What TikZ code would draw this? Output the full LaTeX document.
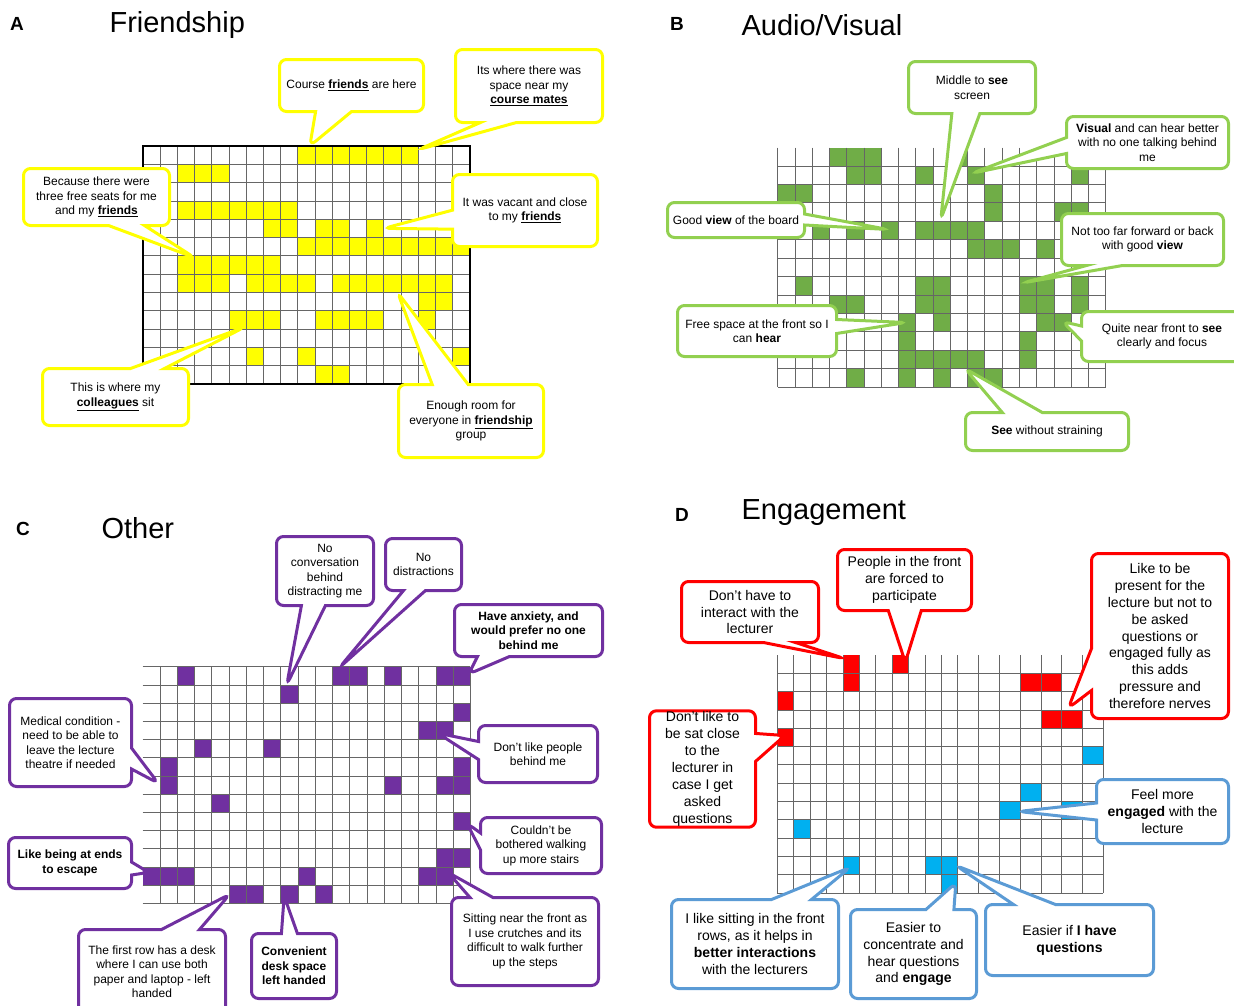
\documentclass[tikz,border=0pt]{standalone}
\usepackage{fontspec}
\setmainfont{Liberation Sans}
\usetikzlibrary{shapes.callouts}
\definecolor{friendyellow}{HTML}{FFFF00}
\definecolor{avline}{HTML}{92D050}
\definecolor{avseat}{HTML}{70AD47}
\definecolor{otherpurple}{HTML}{7030A0}
\definecolor{engred}{HTML}{FF0000}
\definecolor{engline}{HTML}{5B9BD5}
\definecolor{engseat}{HTML}{00B0F0}
\tikzstyle{bubble}=[rectangle callout, draw, fill=white, line width=3pt, rounded corners=7pt, align=center, inner sep=1pt, callout pointer width=20pt]
\tikzstyle{seatline}=[draw=black!60, line width=0.7pt]
\newcommand{\bubble}{\node[bubble]}

\begin{document}
\begin{tikzpicture}[x=1pt, y=-1pt,
	friendbox/.style={draw=friendyellow, font=\fontsize{12}{14.5}\selectfont},
	avbox/.style={draw=avline, font=\fontsize{12}{14.5}\selectfont},
	otherbox/.style={draw=otherpurple, font=\fontsize{12}{14.5}\selectfont},
	engredbox/.style={draw=engred, font=\fontsize{14}{16.9}\selectfont},
	engbluebox/.style={draw=engline, font=\fontsize{14}{16.9}\selectfont},
	paneltitle/.style={anchor=west, font=\fontsize{29}{34}\selectfont},
	panelletter/.style={font=\fontsize{19}{22}\selectfont\bfseries}
	]
	\useasboundingbox (0,0) rectangle (1234,1005);

	% A: friendship
	\node[panelletter] (lettA) at (17,24) {A};
	\node[paneltitle] (titleA) at (106,25) {Friendship};
	\begin{scope}[shift={(143,146)}, x=17.2pt, y=-18.3pt]
		\foreach \r/\cols in {0/{9,...,15}, 1/{2,3,4}, 3/{2,...,8}, 4/{7,8,10,11,13}, 5/{9,...,18}, 6/{2,...,7}, 7/{2,3,4,6,7,8,9,11,12,13,14,15,16,17}, 8/{16,17}, 9/{5,6,7,10,11,12,13,16}, 11/{6,9,18}, 12/{10,11}}
			\foreach \c in \cols \fill[friendyellow] (\c,\r) rectangle ++(1,1);
		\foreach \i in {0,...,19} \draw[seatline] (\i,0) -- (\i,13);
		\foreach \j in {0,...,13} \draw[seatline] (0,\j) -- (19,\j);
		\draw[line width=2.5pt] (0,0) rectangle (19,13);
		\coordinate (tFriends) at (9.7,0);
		\coordinate (tMates) at (16,0.2);
		\coordinate (tFree) at (3,6.1);
		\coordinate (tVacant) at (14,4.5);
		\coordinate (tColleagues) at (5.9,9.9);
		\coordinate (tRoom) at (14.8,8);
	\end{scope}
	\bubble (bFriends) at (351.5,85.5) [friendbox, minimum width=144pt, minimum height=52pt, callout pointer width=36pt, callout absolute pointer={(tFriends)}] {Course \underline{\textbf{friends}} are here};
	\bubble (bMates) at (529,86) [friendbox, minimum width=147pt, minimum height=73pt, callout pointer width=36pt, callout absolute pointer={(tMates)}] {Its where there was\\space near my\\\underline{\textbf{course mates}}};
	\bubble (bFree) at (96.5,197) [friendbox, minimum width=146pt, minimum height=57pt, callout pointer width=36pt, callout absolute pointer={(tFree)}] {Because there were\\three free seats for me\\and my \underline{\textbf{friends}}};
	\bubble (bVacant) at (525,210.5) [friendbox, minimum width=145pt, minimum height=72pt, callout pointer width=19pt, callout absolute pointer={(tVacant)}] {It was vacant and close\\to my \underline{\textbf{friends}}};
	\bubble (bColleagues) at (115.5,397) [friendbox, minimum width=146pt, minimum height=57pt, callout pointer width=34pt, callout absolute pointer={(tColleagues)}] {This is where my\\\underline{\textbf{colleagues}} sit};
	\bubble (bRoom) at (471,421) [friendbox, minimum width=145pt, minimum height=73pt, callout pointer width=36pt, callout absolute pointer={(tRoom)}] {Enough room for\\everyone in \underline{\textbf{friendship}}\\group};

	% B: audio/visual
	\node[panelletter] (lettB) at (677,24) {B};
	\node[paneltitle] (titleB) at (738,25) {Audio/Visual};
	\begin{scope}[shift={(777.7,147.5)}, x=17.26pt, y=-18.42pt]
		\foreach \r/\cols in {0/{3,4,5,10}, 1/{4,5,8,11,17}, 2/{0,1,12}, 3/{12,16,17}, 4/{2,4,6,8,9,10,11}, 5/{11,12,13,15}, 7/{1,8,9,14,15,17}, 8/{3,4,8,9,14,15,17}, 9/{7,9,15,16}, 10/{7,14}, 11/{7,...,11,14}, 12/{4,7,9,11,12}}
			\foreach \c in \cols \fill[avseat] (\c,\r) rectangle ++(1,1);
		\foreach \i in {0,...,19} \draw[seatline] (\i,0) -- (\i,13);
		\foreach \j in {1,...,13} \draw[seatline] (0,\j) -- (19,\j);
		\coordinate (tScreen) at (9.45,3.9);
		\coordinate (tVisual) at (11.25,1.4);
		\coordinate (tBoard) at (6.4,4.45);
		\coordinate (tNotFar) at (14.2,7.35);
		\coordinate (tHear) at (7.45,9.5);
		\coordinate (tFocus) at (16.5,9.45);
		\coordinate (tStrain) at (10.85,12);
	\end{scope}
	\bubble (bScreen) at (972,87.5) [avbox, minimum width=127pt, minimum height=52pt, callout pointer width=28pt, callout absolute pointer={(tScreen)}] {Middle to \textbf{see}\\screen};
	\bubble (bVisual) at (1147.5,142.5) [avbox, minimum width=162pt, minimum height=52pt, callout pointer width=16pt, callout absolute pointer={(tVisual)}] {\textbf{Visual} and can hear better\\with no one talking behind\\me};
	\bubble (bBoard) at (736,220) [avbox, minimum width=137pt, minimum height=35pt, callout pointer width=11pt, callout absolute pointer={(tBoard)}] {Good \textbf{view} of the board};
	\bubble (bNotFar) at (1142.5,239.5) [avbox, minimum width=162pt, minimum height=52pt, callout pointer width=36pt, callout absolute pointer={(tNotFar)}] {Not too far forward or back\\with good \textbf{view}};
	\bubble (bHear) at (757,331) [avbox, minimum width=159pt, minimum height=51pt, callout pointer width=14pt, callout absolute pointer={(tHear)}] {Free space at the front so I\\can \textbf{hear}};
	\bubble (bFocus) at (1162,336.5) [avbox, minimum width=161pt, minimum height=50pt, callout pointer width=15pt, callout absolute pointer={(tFocus)}] {Quite near front to \textbf{see}\\clearly and focus};
	\bubble (bStrain) at (1047,431.5) [avbox, minimum width=163pt, minimum height=38pt, callout pointer width=40pt, callout absolute pointer={(tStrain)}] {\textbf{See} without straining};

	% C: other
	\node[panelletter] (lettC) at (23,529) {C};
	\node[paneltitle] (titleC) at (98,528) {Other};
	\begin{scope}[shift={(142.7,666.7)}, x=17.25pt, y=-18.2pt]
		\foreach \r/\cols in {0/{2,11,12,14,17,18}, 1/{8}, 2/{18}, 3/{16,17}, 4/{3,7}, 5/{1,18}, 6/{1,14,17,18}, 7/{4}, 8/{18}, 10/{17,18}, 11/{0,1,2,9,16,17}, 12/{5,6,8,10}}
			\foreach \c in \cols \fill[otherpurple] (\c,\r) rectangle ++(1,1);
		\foreach \i in {1,...,19} \draw[seatline] (\i,0) -- (\i,13);
		\foreach \j in {0,...,13} \draw[seatline] (0,\j) -- (19,\j);
		\coordinate (tConversation) at (8.35,1);
		\coordinate (tDistract) at (11.4,0.05);
		\coordinate (tAnxiety) at (18.9,0.4);
		\coordinate (tMedical) at (0.9,6.4);
		\coordinate (tBehind) at (17.1,3.65);
		\coordinate (tStairs) at (18.8,8.6);
		\coordinate (tEnds) at (0.35,11.3);
		\coordinate (tCrutches) at (17.7,11.3);
		\coordinate (tDesk) at (5.05,12.5);
		\coordinate (tLeft) at (8.2,12.6);
	\end{scope}
	\bubble (bConversation) at (325,571) [otherbox, minimum width=97pt, minimum height=69pt, callout pointer width=24pt, callout absolute pointer={(tConversation)}] {No\\conversation\\behind\\distracting me};
	\bubble (bDistract) at (423.5,564.5) [otherbox, minimum width=76pt, minimum height=52pt, callout pointer width=22pt, callout absolute pointer={(tDistract)}] {No\\distractions};
	\bubble (bAnxiety) at (528.5,630.5) [otherbox, minimum width=148pt, minimum height=52pt, callout pointer width=32pt, callout absolute pointer={(tAnxiety)}] {\textbf{Have anxiety, and}\\\textbf{would prefer no one}\\\textbf{behind me}};
	\bubble (bMedical) at (70.5,742.5) [otherbox, minimum width=122pt, minimum height=88pt, callout pointer width=21pt, callout absolute pointer={(tMedical)}] {Medical condition -\\need to be able to\\leave the lecture\\theatre if needed};
	\bubble (bBehind) at (538,754) [otherbox, minimum width=119pt, minimum height=57pt, callout pointer width=18pt, callout absolute pointer={(tBehind)}] {Don’t like people\\behind me};
	\bubble (bStairs) at (541,845.5) [otherbox, minimum width=121pt, minimum height=56pt, callout pointer width=17pt, callout absolute pointer={(tStairs)}] {Couldn't be\\bothered walking\\up more stairs};
	\bubble (bEnds) at (70,863) [otherbox, minimum width=123pt, minimum height=51pt, callout pointer width=13pt, callout absolute pointer={(tEnds)}] {\textbf{Like being at ends}\\\textbf{to escape}};
	\bubble (bCrutches) at (525,941.5) [otherbox, minimum width=147pt, minimum height=88pt, callout pointer width=23pt, callout absolute pointer={(tCrutches)}] {Sitting near the front as\\I use crutches and its\\difficult to walk further\\up the steps};
	\bubble (bDesk) at (152,971.5) [otherbox, minimum width=147pt, minimum height=84pt, callout pointer width=38pt, callout absolute pointer={(tDesk)}] {The first row has a desk\\where I can use both\\paper and laptop - left\\handed};
	\bubble (bLeft) at (294,966) [otherbox, minimum width=85pt, minimum height=65pt, callout pointer width=16pt, callout absolute pointer={(tLeft)}] {\textbf{Convenient}\\\textbf{desk space}\\\textbf{left handed}};

	% D: engagement
	\node[panelletter] (lettD) at (682,515) {D};
	\node[paneltitle] (titleD) at (738,513) {Engagement};
	\begin{scope}[shift={(777.3,655)}, y=-18.3pt]
		\foreach \c/\r/\col in {4/0/engred, 7/0/engred, 4/1/engred, 14/1/engred, 15/1/engred, 0/2/engred, 15/3/engred, 16/3/engred, 0/4/engred,
			17/5/engseat, 14/7/engseat, 13/8/engseat, 16/8/engseat, 1/9/engseat, 4/11/engseat, 9/11/engseat, 10/11/engseat, 10/12/engseat} {
			\pgfmathsetmacro\xa{\c<12 ? 16.4*\c : 180.4+20.8*(\c-11)}
			\pgfmathsetmacro\xb{\c<11 ? 16.4*(\c+1) : 180.4+20.8*(\c-10)}
			\fill[\col] (\xa,\r) rectangle (\xb,\r+1);
		}
		\foreach \i in {0,...,18} {
			\pgfmathsetmacro\xa{\i<12 ? 16.4*\i : 180.4+20.8*(\i-11)}
			\draw[seatline] (\xa,0) -- (\xa,13);
		}
		\foreach \j in {1,...,13} \draw[seatline] (0,\j) -- (326,\j);
		\coordinate (tInteract) at (67.5,0.2);
		\coordinate (tForced) at (128,0.4);
		\coordinate (tNerves) at (291,2.9);
		\coordinate (tClose) at (7.5,4.4);
		\coordinate (tEngaged) at (241,8.55);
		\coordinate (tSitting) at (73,11.6);
		\coordinate (tConcentrate) at (178.5,12.45);
		\coordinate (tQuestions) at (178.5,11.5);
	\end{scope}
	\bubble (bInteract) at (750,612) [engredbox, minimum width=137pt, minimum height=61pt, callout pointer width=32pt, callout absolute pointer={(tInteract)}] {Don't have to\\interact with the\\lecturer};
	\bubble (bForced) at (904.5,580) [engredbox, minimum width=134pt, minimum height=61pt, callout pointer width=33pt, callout absolute pointer={(tForced)}] {People in the front\\are forced to\\participate};
	\bubble (bNerves) at (1160,636) [engredbox, minimum width=137pt, minimum height=165pt, callout pointer width=42pt, callout absolute pointer={(tNerves)}] {Like to be\\present for the\\lecture but not to\\be asked\\questions or\\engaged fully as\\this adds\\pressure and\\therefore nerves};
	\bubble (bClose) at (702.5,769) [engredbox, minimum width=106pt, minimum height=115pt, callout pointer width=28pt, callout absolute pointer={(tClose)}] {Don't like to\\be sat close\\to the\\lecturer in\\case I get\\asked\\questions};
	\bubble (bEngaged) at (1162.5,811.5) [engbluebox, minimum width=132pt, minimum height=64pt, callout pointer width=17pt, callout absolute pointer={(tEngaged)}] {Feel more\\\textbf{engaged} with the\\lecture};
	\bubble (bSitting) at (755,944) [engbluebox, minimum width=167pt, minimum height=89pt, callout pointer width=40pt, callout absolute pointer={(tSitting)}] {I like sitting in the front\\rows, as it helps in\\\textbf{better interactions}\\with the lecturers};
	\bubble (bConcentrate) at (913.5,954) [engbluebox, minimum width=126pt, minimum height=89pt, callout pointer width=28pt, callout absolute pointer={(tConcentrate)}] {Easier to\\concentrate and\\hear questions\\and \textbf{engage}};
	\bubble (bQuestions) at (1069.5,940) [engbluebox, minimum width=168pt, minimum height=71pt, callout pointer width=42pt, callout absolute pointer={(tQuestions)}] {Easier if \textbf{I have}\\\textbf{questions}};
\end{tikzpicture}
\end{document}
